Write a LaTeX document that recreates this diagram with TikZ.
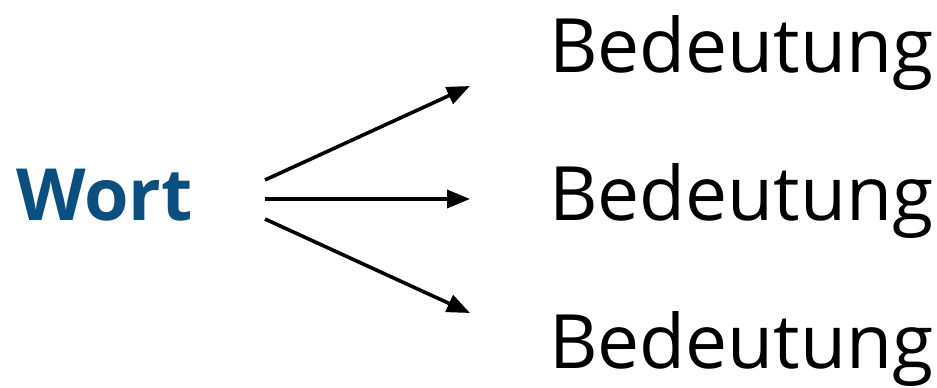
\documentclass[tikz,border=0pt]{standalone}
\usepackage{fontspec}
\setmainfont{Open Sans}
\usetikzlibrary{arrows.meta}
\definecolor{wortblue}{HTML}{0B4F80}
\begin{document}
\begin{tikzpicture}[x=1pt,y=-1pt,
  txt/.style={inner sep=0pt,anchor=base west,font=\fontsize{75}{82}\selectfont},
  conn/.style={line width=3.6pt,-{Triangle[length=23pt,width=18pt]}}]
\useasboundingbox (0,0) rectangle (937,388);
\node[txt,text=wortblue,font=\fontsize{72}{80}\selectfont\bfseries] (wort) at (16,220) {Wort};
\node[txt] (b1) at (549,72) {Bedeutung};
\node[txt] (b2) at (549,220) {Bedeutung};
\node[txt] (b3) at (549,368) {Bedeutung};
\coordinate (s1) at (265,180);
\coordinate (s2) at (265,199);
\coordinate (s3) at (265,219);
\coordinate (e1) at (470,86);
\coordinate (e2) at (470,199);
\coordinate (e3) at (470,313);
\draw[conn] (s1) -- (e1);
\draw[conn] (s2) -- (e2);
\draw[conn] (s3) -- (e3);
\end{tikzpicture}
\end{document}
